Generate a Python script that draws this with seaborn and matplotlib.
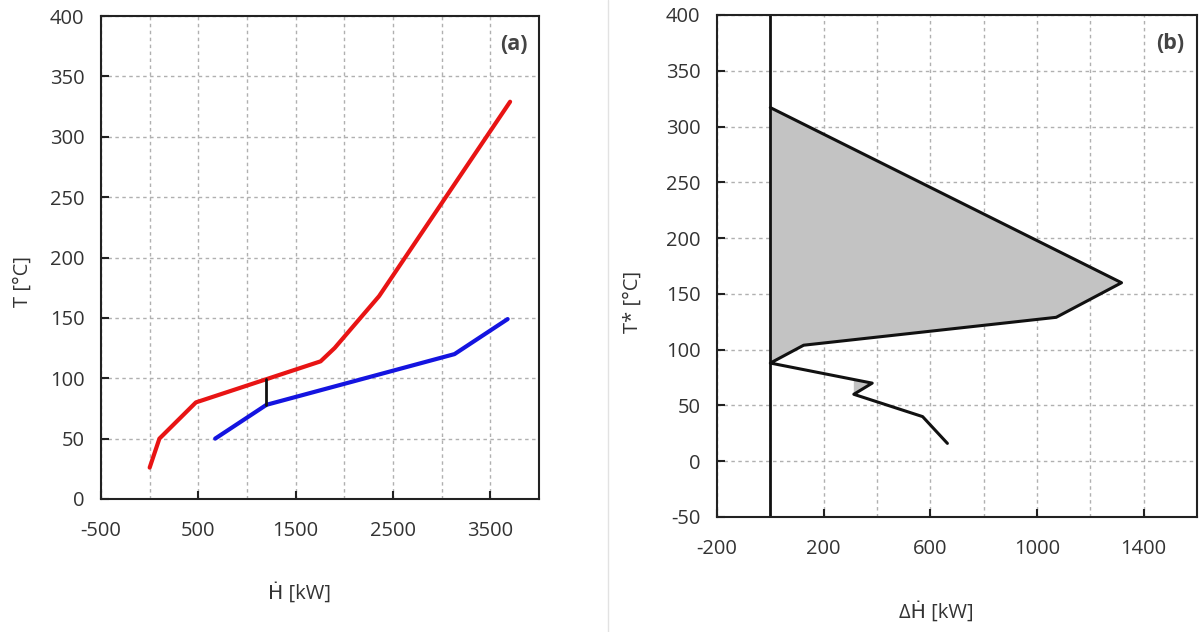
import numpy as np
import seaborn as sns
import matplotlib.pyplot as plt
from matplotlib.lines import Line2D
from matplotlib.ticker import MultipleLocator

# (a) composite curves
hot_H = [0, 100, 475, 1756, 1900, 2357, 3703]
hot_T = [26, 50, 80, 114, 125, 168, 329]
cold_H = [673, 1200, 3132, 3678]
cold_T = [50, 78, 120, 149]
pinch_H = [1200, 1200]
pinch_T = [78, 99]

# (b) grand composite curve
gcc_dH = [0, 1317, 1072, 125, 0, 382, 313, 571, 664]
gcc_T = [317, 160, 129, 104, 88, 70, 60, 40, 16]

a_xticks = [-500, 500, 1500, 2500, 3500]
a_yticks = list(range(0, 401, 50))
b_xticks = [-200, 200, 600, 1000, 1400]
b_yticks = list(range(-50, 401, 50))

sns.set_style("white")
plt.rcParams['font.family'] = ['Open Sans', 'DejaVu Sans']
plt.rcParams['axes.unicode_minus'] = False

fig = plt.figure(figsize=(12.04, 6.32), dpi=100)
ax_a = fig.add_axes([101 / 1204, 1 - 499 / 632, 438 / 1204, 483 / 632])
ax_b = fig.add_axes([717 / 1204, 1 - 517 / 632, 480 / 1204, 502 / 632])

# separator between the panels
fig.add_artist(Line2D([608 / 1204, 608 / 1204], [0, 1], color='#e2e2e2', lw=1))


def style_axes(ax, xticks, yticks, xminor, xlim, ylim):
    ax.set_xlim(*xlim)
    ax.set_ylim(*ylim)
    ax.set_xticks(xticks)
    ax.set_yticks(yticks)
    ax.xaxis.set_minor_locator(MultipleLocator(xminor))
    ax.grid(True, which='both', color='#b0b0b0', lw=1, ls=(0, (2.5, 2.5)))
    ax.set_axisbelow(True)
    for s in ax.spines.values():
        s.set_color('#222222')
        s.set_linewidth(1.5)
    ax.tick_params(which='major', direction='in', length=6, width=1.5,
                   bottom=True, left=True,
                   color='#222222', labelcolor='#333333', labelsize=14.5)
    ax.tick_params(which='minor', length=0)
    ax.tick_params(axis='x', pad=16)
    ax.tick_params(axis='y', pad=12)


style_axes(ax_a, a_xticks, a_yticks, 500, (-500, 4000), (0, 400))
style_axes(ax_b, b_xticks, b_yticks, 200, (-200, 1600), (-50, 400))

# panel (a)
sns.lineplot(x=hot_H, y=hot_T, sort=False, estimator=None, color='#e81414', lw=3, ax=ax_a)
sns.lineplot(x=cold_H, y=cold_T, sort=False, estimator=None, color='#1414e0', lw=3, ax=ax_a)
sns.lineplot(x=pinch_H, y=pinch_T, sort=False, estimator=None, color='#111111', lw=2, ax=ax_a)

ax_a.set_xlabel('Ḣ [kW]', fontsize=14.5, color='#333333', va='center')
ax_a.xaxis.set_label_coords(0.454, -0.195)
ax_a.set_ylabel('T [°C]', fontsize=14.5, color='#333333', va='center')
ax_a.yaxis.set_label_coords(-0.178, 0.451)
ax_a.text(0.943, 0.94, '(a)', transform=ax_a.transAxes, ha='center', va='center',
          fontsize=15.5, fontweight='bold', color='#444444')

# panel (b)
ax_b.fill_betweenx(gcc_T[:5], 0, gcc_dH[:5], color='#c3c3c3', lw=0)
pocket_T = np.interp(gcc_dH[6], [gcc_dH[4], gcc_dH[5]], [gcc_T[4], gcc_T[5]])
ax_b.fill([gcc_dH[6], gcc_dH[5], gcc_dH[6]], [pocket_T, gcc_T[5], gcc_T[6]],
          color='#c3c3c3', lw=0)
ax_b.axvline(0, color='#111111', lw=2)
sns.lineplot(x=gcc_dH, y=gcc_T, sort=False, estimator=None, color='#111111', lw=2.2, ax=ax_b)

ax_b.set_xlabel('ΔḢ [kW]', fontsize=14.5, color='#333333', va='center')
ax_b.xaxis.set_label_coords(0.456, -0.189)
ax_b.set_ylabel('T* [°C]', fontsize=14.5, color='#333333', va='center')
ax_b.yaxis.set_label_coords(-0.175, 0.428)
ax_b.text(0.944, 0.944, '(b)', transform=ax_b.transAxes, ha='center', va='center',
          fontsize=15.5, fontweight='bold', color='#444444')

fig.savefig('out.png', dpi=100)
